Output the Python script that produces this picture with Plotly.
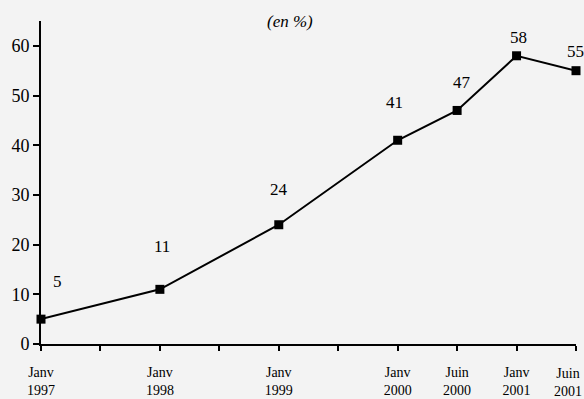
import plotly.graph_objects as go

# Half-year index from Janv 1997 (0) to Juin 2001 (9)
periods = [0, 2, 4, 6, 7, 8, 9]
values = [5, 11, 24, 41, 47, 58, 55]
tick_positions = list(range(10))
tick_labels = ["Janv<br>1997", "", "Janv<br>1998", "", "Janv<br>1999", "",
               "Janv<br>2000", "Juin<br>2000", "Janv<br>2001", ""]
last_label = "Juin<br>2001"  # placed flush with the right edge
y_ticks = [0, 10, 20, 30, 40, 50, 60]

# Pixel offsets of each value label relative to its point
label_dx = [16, 2, 0, -3, 5, 2, -1]
label_dy = [38, 43, 35, 38, 28, 18, 19]

serif = "Liberation Serif"

fig = go.Figure()
fig.add_trace(go.Scatter(
    x=periods, y=values, mode="lines+markers",
    line=dict(color="black", width=2),
    marker=dict(symbol="square", size=9, color="black"),
    cliponaxis=False, hoverinfo="skip",
))

for x, v, dx, dy in zip(periods, values, label_dx, label_dy):
    fig.add_annotation(x=x, y=v, text=str(v), showarrow=False,
                       xshift=dx, yshift=dy,
                       font=dict(family=serif, size=17, color="black"))

fig.add_annotation(xref="paper", yref="paper", x=0.465, y=1.0, yanchor="middle",
                   text="<i>(en %)</i>", showarrow=False,
                   font=dict(family=serif, size=17, color="black"))

# Final period label, kept inside the page
fig.add_annotation(xref="paper", yref="paper", x=1.0, y=0, xanchor="right",
                   yanchor="top", xshift=8, yshift=-20, text=last_label,
                   showarrow=False, align="center",
                   font=dict(family=serif, size=14, color="black"))

fig.update_layout(
    width=584, height=399,
    margin=dict(l=41, r=8, t=21, b=55, autoexpand=False),
    paper_bgcolor="#f3f3f3", plot_bgcolor="#f3f3f3",
    showlegend=False,
    xaxis=dict(range=[0, 9], tickmode="array", tickvals=tick_positions,
               ticktext=tick_labels, ticks="outside", ticklen=5, tickwidth=2,
               tickcolor="black", showline=True, linecolor="black", linewidth=2,
               showgrid=False, zeroline=False, ticklabeloverflow="allow",
               automargin=False, ticklabelstandoff=9,
               tickfont=dict(family=serif, size=14, color="black")),
    yaxis=dict(range=[0, 65], tickmode="array", tickvals=y_ticks,
               ticks="outside", ticklen=6, tickwidth=2, tickcolor="black",
               showline=True, linecolor="black", linewidth=2,
               showgrid=False, zeroline=False, automargin=False,
               tickfont=dict(family=serif, size=18, color="black")),
)

fig.write_html("out.html")
